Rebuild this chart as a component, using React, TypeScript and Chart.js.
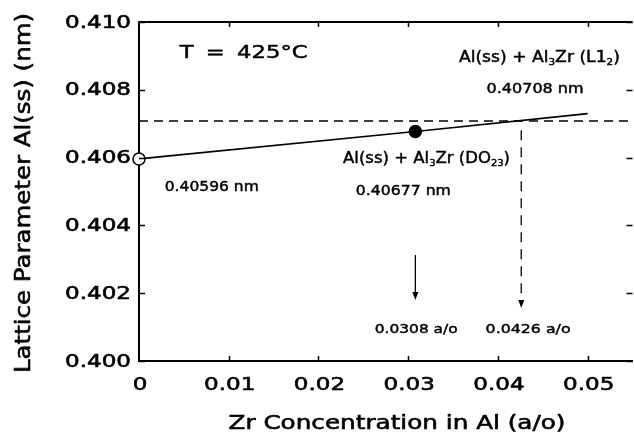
import { useEffect, useRef } from "react";
import { Chart, registerables } from "chart.js";

Chart.register(...registerables);

// ---- data ----
const zrConc = [0, 0.0308, 0.05];
const latticeParam = [0.40596, 0.40677, 0.4073];
const l12Param = 0.40708;
const l12Conc = 0.0426;
const do23Conc = 0.0308;
const arrowSolidY = [0.40313, 0.4018];
const arrowDashedY = [0.40681, 0.40156];
const xTicks = [0, 0.01, 0.02, 0.03, 0.04, 0.05];
const xTickLabels = ["0", "0.01", "0.02", "0.03", "0.04", "0.05"];
const yTicks = [0.4, 0.402, 0.404, 0.406, 0.408, 0.41];
const yTickLabels = ["0.400", "0.402", "0.404", "0.406", "0.408", "0.410"];
const xTitle = "Zr Concentration in Al (a/o)";
const yTitle = "Lattice Parameter Al(ss) (nm)";

type Seg = { t: string; sub?: boolean };
type Note = { segs: Seg[]; x: number; y: number; size: number; w: number; ws?: number };

const notes: Note[] = [
  { segs: [{ t: "T = 425°C" }], x: 0.00453, y: 0.40907, size: 18, w: 128, ws: 4 },
  {
    segs: [{ t: "Al(ss) + Al" }, { t: "3", sub: true }, { t: "Zr (L1" }, { t: "2", sub: true }, { t: ")" }],
    x: 0.03565, y: 0.40894, size: 15, w: 161,
  },
  { segs: [{ t: "0.40708 nm" }], x: 0.03874, y: 0.40802, size: 14, w: 97 },
  {
    segs: [{ t: "Al(ss) + Al" }, { t: "3", sub: true }, { t: "Zr (DO" }, { t: "23", sub: true }, { t: ")" }],
    x: 0.02274, y: 0.40596, size: 15, w: 167,
  },
  { segs: [{ t: "0.40677 nm" }], x: 0.02417, y: 0.40499, size: 14, w: 95 },
  { segs: [{ t: "0.40596 nm" }], x: 0.00287, y: 0.40513, size: 14, w: 94 },
  { segs: [{ t: "0.0308 a/o" }], x: 0.02627, y: 0.40094, size: 13, w: 83 },
  { segs: [{ t: "0.0426 a/o" }], x: 0.03863, y: 0.40094, size: 13, w: 85 },
];

const FONT = "'DejaVu Sans', Verdana, sans-serif";
const TICK_SX = 1.28;

function segFont(size: number, sub?: boolean) {
  return `${sub ? Math.round(size * 0.62) : size}px ${FONT}`;
}

function fillHeavy(ctx: CanvasRenderingContext2D, t: string, x: number, y: number, lw: number) {
  ctx.fillText(t, x, y);
  if (lw > 0) {
    ctx.lineWidth = lw;
    ctx.lineJoin = "round";
    ctx.strokeText(t, x, y);
  }
}

// draws segments; (x,y) is the left-middle of the text; width stretched to w
function drawRich(ctx: CanvasRenderingContext2D, segs: Seg[], x: number, y: number, size: number, w: number, ws = 0, lw = 0.5) {
  ctx.save();
  (ctx as any).letterSpacing = "0px";
  (ctx as any).wordSpacing = ws + "px";
  let total = 0;
  for (const s of segs) {
    ctx.font = segFont(size, s.sub);
    total += ctx.measureText(s.t).width;
  }
  const sx = w / total;
  ctx.translate(x, y);
  ctx.scale(sx, 1);
  ctx.textBaseline = "middle";
  ctx.textAlign = "left";
  ctx.fillStyle = "#000";
  ctx.strokeStyle = "#000";
  let cx = 0;
  for (const s of segs) {
    ctx.font = segFont(size, s.sub);
    fillHeavy(ctx, s.t, cx, s.sub ? size * 0.3 : 0, lw);
    cx += ctx.measureText(s.t).width;
  }
  ctx.restore();
}

function drawStretch(ctx: CanvasRenderingContext2D, text: string, x: number, y: number, size: number, sx: number, align: CanvasTextAlign) {
  ctx.save();
  (ctx as any).letterSpacing = "0px";
  (ctx as any).wordSpacing = "0px";
  ctx.translate(x, y);
  ctx.scale(sx, 1);
  ctx.font = `${size}px ${FONT}`;
  ctx.textAlign = align;
  ctx.textBaseline = "middle";
  ctx.fillStyle = "#000";
  ctx.strokeStyle = "#000";
  fillHeavy(ctx, text, 0, 0, 0.6);
  ctx.restore();
}

const decor = {
  id: "decor",
  afterDatasetsDraw(chart: any) {
    const { ctx, scales } = chart;
    const x = scales.x, y = scales.y;
    ctx.save();
    ctx.fillStyle = "#000";
    const tips = [
      [do23Conc, arrowSolidY[1]],
      [l12Conc, arrowDashedY[1]],
    ];
    for (const [xv, yv] of tips) {
      const px = x.getPixelForValue(xv);
      const py = y.getPixelForValue(yv);
      ctx.beginPath();
      ctx.moveTo(px, py);
      ctx.lineTo(px - 3, py - 8);
      ctx.lineTo(px + 3, py - 8);
      ctx.closePath();
      ctx.fill();
    }
    ctx.restore();
  },
  afterDraw(chart: any) {
    const { ctx, chartArea, scales } = chart;
    const x = scales.x, y = scales.y;
    ctx.save();
    ctx.strokeStyle = "#000";
    ctx.fillStyle = "#000";
    // top frame line
    ctx.lineWidth = 2;
    ctx.beginPath();
    ctx.moveTo(chartArea.left, chartArea.top);
    ctx.lineTo(chartArea.right, chartArea.top);
    ctx.stroke();
    // inward ticks
    ctx.lineWidth = 1.5;
    ctx.beginPath();
    for (const v of xTicks) {
      if (v === 0) continue;
      const px = Math.round(x.getPixelForValue(v)) + 0.5;
      ctx.moveTo(px, chartArea.bottom);
      ctx.lineTo(px, chartArea.bottom - 5);
      ctx.moveTo(px, chartArea.top);
      ctx.lineTo(px, chartArea.top + 5);
    }
    for (const v of yTicks) {
      const py = Math.round(y.getPixelForValue(v)) + 0.5;
      ctx.moveTo(chartArea.left, py);
      ctx.lineTo(chartArea.left + 6, py);
      ctx.moveTo(chartArea.right, py);
      ctx.lineTo(chartArea.right - 6, py);
    }
    ctx.stroke();
    // tick labels (positions from the chart scales)
    x.ticks.forEach((t: any, i: number) => {
      drawStretch(ctx, xTickLabels[i], x.getPixelForValue(t.value) + 1, chartArea.bottom + 24, 18, TICK_SX, "center");
    });
    y.ticks.forEach((t: any, i: number) => {
      drawStretch(ctx, yTickLabels[i], chartArea.left - 8, y.getPixelForValue(t.value) + 1, 18, TICK_SX, "right");
    });
    // annotations
    for (const n of notes) {
      drawRich(ctx, n.segs, x.getPixelForValue(n.x), y.getPixelForValue(n.y), n.size, n.w, n.ws || 0, 0.45);
    }
    // axis titles
    drawRich(ctx, [{ t: xTitle }], 397 - 337 / 2, 424, 20, 337, 0, 0.6);
    ctx.translate(24, 193);
    ctx.rotate(-Math.PI / 2);
    drawRich(ctx, [{ t: yTitle }], -180, 0, 22, 360, 0, 0.6);
    ctx.restore();
  },
};

export default function App() {
  const ref = useRef<HTMLCanvasElement | null>(null);
  useEffect(() => {
    if (!ref.current) return;
    const chart = new Chart(ref.current, {
      type: "line",
      data: {
        datasets: [
          {
            data: zrConc.map((v, i) => ({ x: v, y: latticeParam[i] })),
            borderColor: "#000",
            borderWidth: 1.7,
            pointRadius: [6, 6, 0],
            pointBackgroundColor: ["#fff", "#000", "#000"],
            pointBorderColor: "#000",
            pointBorderWidth: 1.5,
            clip: false as any,
          },
          {
            data: [
              { x: 0, y: l12Param },
              { x: 0.055, y: l12Param },
            ],
            borderColor: "#000",
            borderWidth: 1.3,
            borderDash: [9, 6],
            pointRadius: 0,
          },
          {
            data: [
              { x: l12Conc, y: arrowDashedY[0] },
              { x: l12Conc, y: arrowDashedY[1] + 0.0002 },
            ],
            borderColor: "#000",
            borderWidth: 1.3,
            borderDash: [10, 7],
            pointRadius: 0,
          },
          {
            data: [
              { x: do23Conc, y: arrowSolidY[0] },
              { x: do23Conc, y: arrowSolidY[1] + 0.0002 },
            ],
            borderColor: "#000",
            borderWidth: 1.3,
            pointRadius: 0,
          },
        ],
      },
      options: {
        animation: false,
        responsive: false,
        events: [],
        layout: { padding: { left: 0, top: 22, right: 3, bottom: 0 } },
        plugins: { legend: { display: false }, tooltip: { enabled: false } },
        scales: {
          x: {
            type: "linear",
            min: 0,
            max: 0.055,
            afterFit: (s: any) => {
              s.height = 74;
            },
            afterBuildTicks: (s: any) => {
              s.ticks = xTicks.map((v) => ({ value: v }));
            },
            grid: { display: false, drawTicks: false },
            border: { display: true, color: "#000", width: 2 },
            ticks: { display: false },
          },
          y: {
            type: "linear",
            min: 0.4,
            max: 0.41,
            afterFit: (s: any) => {
              s.width = 139;
            },
            afterBuildTicks: (s: any) => {
              s.ticks = yTicks.map((v) => ({ value: v }));
            },
            grid: { display: false, drawTicks: false },
            border: { display: true, color: "#000", width: 2 },
            ticks: { display: false },
          },
        },
      },
      plugins: [decor],
    });
    return () => chart.destroy();
  }, []);
  return (
    <div
      style={{
        position: "fixed",
        left: 0,
        top: 0,
        width: 634,
        height: 435,
        overflow: "hidden",
        background: "#fff",
      }}
    >
      <canvas ref={ref} width={640} height={435} style={{ display: "block" }} />
    </div>
  );
}
